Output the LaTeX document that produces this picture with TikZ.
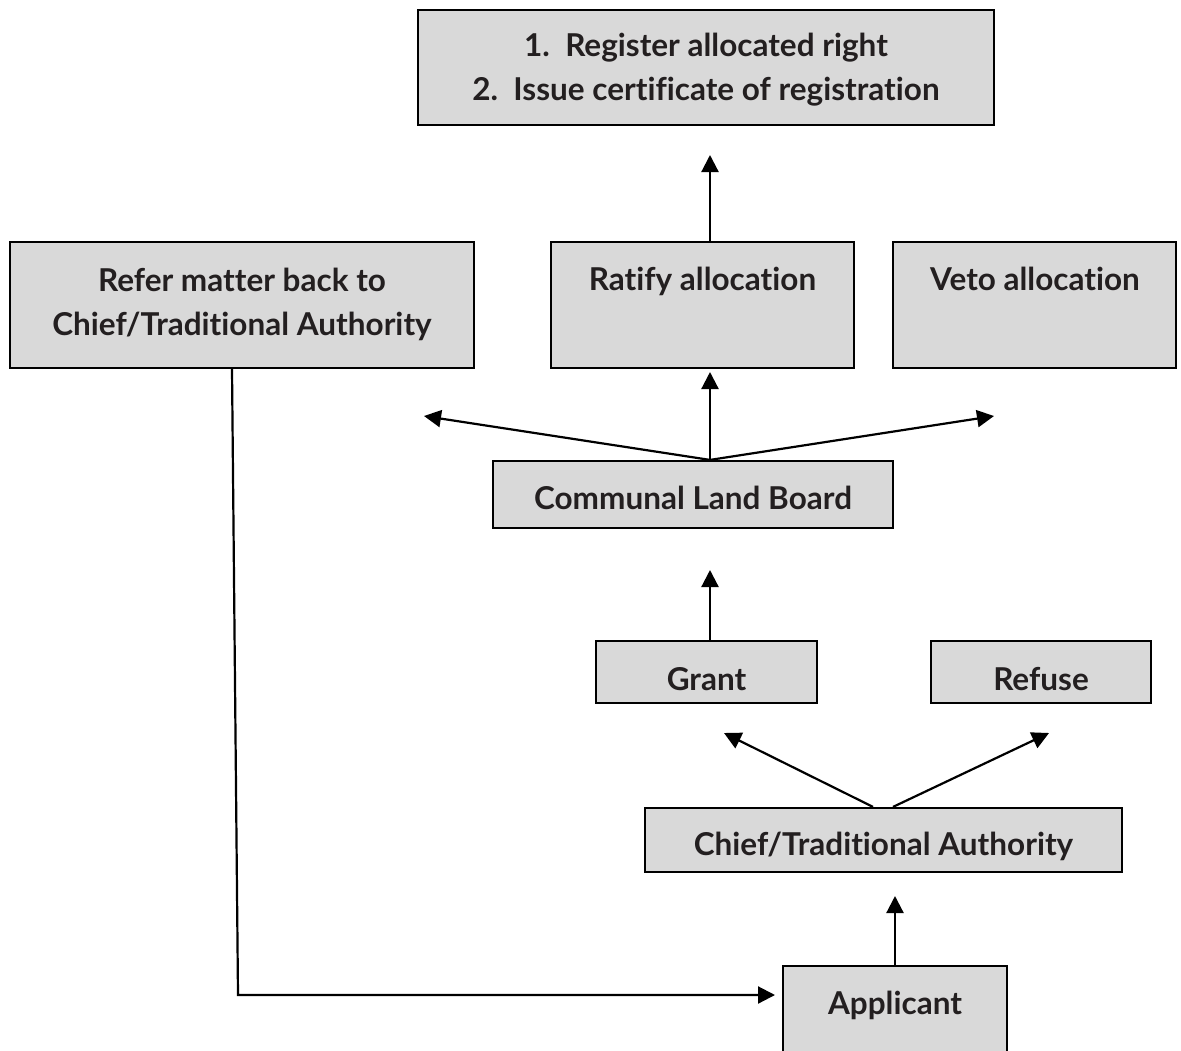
\documentclass[tikz,border=0pt]{standalone}
\usepackage{fontspec}
\setmainfont{Lato}[Ligatures=NoCommon]
\usetikzlibrary{arrows.meta}
\definecolor{boxgray}{HTML}{D9D9D9}
\definecolor{ink}{HTML}{231F20}
\begin{document}
\begin{tikzpicture}[x=1pt,y=-1pt,
  box/.style={draw=black, fill=boxgray, line width=2.2pt, inner sep=0pt},
  lbl/.style={text=ink, font=\fontsize{31.5}{44}\selectfont\bfseries, align=center, inner sep=0pt},
  arr/.style={draw=black, line width=2.2pt, -{Triangle[length=17pt,width=17pt]}}]
\clip (0,0) rectangle (1181,1050);
\fill[white] (0,0) rectangle (1181,1050);
% boxes
\node[box, minimum width=576pt, minimum height=115pt] (top) at (706,67.5) {};
\node[box, minimum width=464pt, minimum height=126pt] (refer) at (242,305) {};
\node[box, minimum width=303pt, minimum height=126pt] (ratify) at (702.5,305) {};
\node[box, minimum width=283pt, minimum height=126pt] (veto) at (1034.5,305) {};
\node[box, minimum width=400pt, minimum height=67pt] (clb) at (693,494.5) {};
\node[box, minimum width=221pt, minimum height=62pt] (grant) at (706.5,672) {};
\node[box, minimum width=220pt, minimum height=62pt] (refuse) at (1041,672) {};
\node[box, minimum width=477pt, minimum height=64pt] (chief) at (883.5,840) {};
\node[box, minimum width=224pt, minimum height=130pt] (app) at (895,1031) {};
% labels
\node[lbl] (topt) at (706,70) {1.\ \ Register allocated right\\2.\ \ Issue certificate of registration};
\node[lbl] (refert) at (242,304) {Refer matter back to\\Chief/Traditional Authority};
\node[lbl, anchor=base] (ratifyt) at (702.5,290) {Ratify allocation};
\node[lbl, anchor=base] (vetot) at (1035,290) {Veto allocation};
\node[lbl] (clbt) at (693,498) {Communal Land Board};
\node[lbl] (grantt) at (706.5,679) {Grant};
\node[lbl] (refuset) at (1041,679) {Refuse};
\node[lbl] (chieft) at (883.5,846) {Chief/Traditional Authority};
\node[lbl] (appt) at (895,1005) {Applicant};
% connector ends
\coordinate (t1) at (710,155);
\coordinate (cl) at (424,416);
\coordinate (cu) at (710,372);
\coordinate (cr) at (994,416);
\coordinate (gt) at (710,570);
\coordinate (gl) at (724,733);
\coordinate (gr) at (1049,733);
\coordinate (ca1) at (873,0);
\coordinate (ca2) at (893,0);
\coordinate (at) at (895,896);
\coordinate (r1) at (232,0);
\coordinate (rb) at (238,995);
\coordinate (re) at (775,995);
% connectors
\draw[arr] (t1 |- ratify.north) -- (t1);
\draw[arr] (cu |- clb.north) -- (cl);
\draw[arr] (cu |- clb.north) -- (cu);
\draw[arr] (cu |- clb.north) -- (cr);
\draw[arr] (gt |- grant.north) -- (gt);
\draw[arr] (ca1 |- chief.north) -- (gl);
\draw[arr] (ca2 |- chief.north) -- (gr);
\draw[arr] (at |- app.north) -- (at);
\draw[arr] (r1 |- refer.south) -- (rb) -- (re);
\end{tikzpicture}
\end{document}
